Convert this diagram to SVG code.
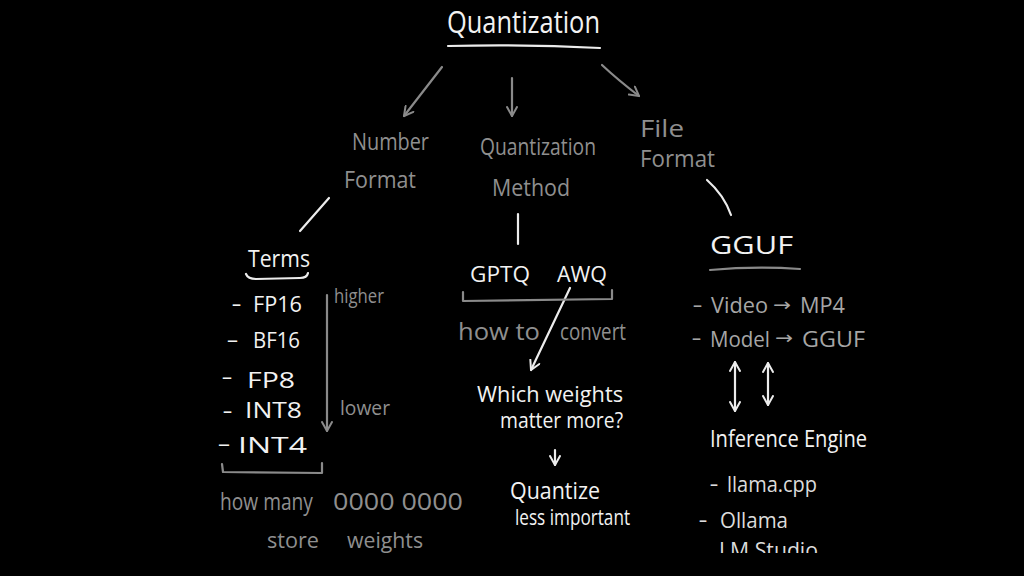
<svg xmlns="http://www.w3.org/2000/svg" width="1024" height="576" viewBox="0 0 1024 576">
<defs>
<style>
text{font-family:"Open Sans","Liberation Sans",sans-serif;}
.w{fill:#f2f2f2;}
.l{fill:#dcdcdc;}
.g{fill:#8f8f8f;}
.g2{fill:#a6a6a6;}
.arr{font-family:"DejaVu Sans",sans-serif;}
.sw{stroke:#ececec;stroke-width:2.2;fill:none;stroke-linecap:round;stroke-linejoin:round;}
.sg{stroke:#8a8a8a;stroke-width:2.2;fill:none;stroke-linecap:round;stroke-linejoin:round;}
</style>
<marker id="ag" viewBox="0 0 12 12" refX="10" refY="6" markerWidth="12" markerHeight="12" markerUnits="userSpaceOnUse" orient="auto">
<path d="M1,1 L10,6 L1,11" fill="none" stroke="#8a8a8a" stroke-width="2" stroke-linecap="round" stroke-linejoin="round"/>
</marker>
<marker id="aw" viewBox="0 0 12 12" refX="10" refY="6" markerWidth="12" markerHeight="12" markerUnits="userSpaceOnUse" orient="auto">
<path d="M1,1 L10,6 L1,11" fill="none" stroke="#ececec" stroke-width="2" stroke-linecap="round" stroke-linejoin="round"/>
</marker>
<marker id="aws" viewBox="0 0 12 12" refX="10" refY="6" markerWidth="12" markerHeight="12" markerUnits="userSpaceOnUse" orient="auto-start-reverse">
<path d="M1,1 L10,6 L1,11" fill="none" stroke="#ececec" stroke-width="2" stroke-linecap="round" stroke-linejoin="round"/>
</marker>
<clipPath id="clipBottom"><rect x="0" y="0" width="1024" height="553"/></clipPath>
</defs>
<rect x="0" y="0" width="1024" height="576" fill="#000"/>

<g id="connectors">
<path class="sg" d="M442,67 L404,116" marker-end="url(#ag)"/>
<path class="sg" d="M512,78 L512,116" marker-end="url(#ag)"/>
<path class="sg" d="M602,65 Q618,80 639,96" marker-end="url(#ag)"/>
<path class="sw" d="M329,198 L300,231"/>
<path class="sw" d="M518,214 L518,244"/>
<path class="sw" d="M707,180 Q724,195 731,215"/>
<path class="sg" d="M327,295 L327,431" marker-end="url(#ag)"/>
<path class="sw" d="M570,288 L531,370" marker-end="url(#aw)"/>
<path class="sw" d="M555,450 L555,465" marker-end="url(#aw)"/>
<path class="sw" d="M735,362 L735,411" marker-start="url(#aws)" marker-end="url(#aws)"/>
<path class="sw" d="M768,363 L768,405" marker-start="url(#aws)" marker-end="url(#aws)"/>
</g>

<g id="node-quantization">
<text class="w" x="447" y="33" font-size="31" textLength="153" lengthAdjust="spacingAndGlyphs">Quantization</text>
<path class="sw" d="M448,46 Q525,44 600,48"/>
</g>

<g id="node-number-format">
<text class="g" x="352" y="150" font-size="23" textLength="77" lengthAdjust="spacingAndGlyphs">Number</text>
<text class="g" x="344" y="188" font-size="23" textLength="72" lengthAdjust="spacingAndGlyphs">Format</text>
</g>

<g id="node-quantization-method">
<text class="g" x="480" y="155" font-size="23" textLength="116" lengthAdjust="spacingAndGlyphs">Quantization</text>
<text class="g" x="492" y="196" font-size="23" textLength="78" lengthAdjust="spacingAndGlyphs">Method</text>
</g>

<g id="node-file-format">
<text class="g" x="640" y="137" font-size="23" textLength="44" lengthAdjust="spacingAndGlyphs">File</text>
<text class="g" x="640" y="167" font-size="23" textLength="75" lengthAdjust="spacingAndGlyphs">Format</text>
</g>

<g id="node-terms">
<text class="w" x="248" y="267" font-size="24" textLength="62" lengthAdjust="spacingAndGlyphs">Terms</text>
<path class="sw" d="M246,274 Q248,279 256,279 L300,278 Q307,278 308,273"/>
<text class="w" x="232" y="311" font-size="22" textLength="9" lengthAdjust="spacingAndGlyphs">–</text>
<text class="w" x="253" y="312" font-size="22" textLength="49" lengthAdjust="spacingAndGlyphs">FP16</text>
<text class="w" x="227" y="347" font-size="22" textLength="11" lengthAdjust="spacingAndGlyphs">–</text>
<text class="w" x="253" y="348" font-size="22" textLength="47" lengthAdjust="spacingAndGlyphs">BF16</text>
<text class="w" x="222" y="384" font-size="22" textLength="10" lengthAdjust="spacingAndGlyphs">–</text>
<text class="w" x="247" y="388" font-size="22" textLength="48" lengthAdjust="spacingAndGlyphs">FP8</text>
<text class="w" x="223" y="418" font-size="22" textLength="9" lengthAdjust="spacingAndGlyphs">–</text>
<text class="w" x="245" y="418" font-size="22" textLength="57" lengthAdjust="spacingAndGlyphs">INT8</text>
<text class="w" x="218" y="451" font-size="22" textLength="12" lengthAdjust="spacingAndGlyphs">–</text>
<text class="w" x="238" y="453" font-size="22" textLength="69" lengthAdjust="spacingAndGlyphs">INT4</text>
<text class="g" x="334" y="303" font-size="20" textLength="50" lengthAdjust="spacingAndGlyphs">higher</text>
<text class="g" x="340" y="415" font-size="20" textLength="50" lengthAdjust="spacingAndGlyphs">lower</text>
<path class="sg" d="M222,464 L223,472 L322,473 L322,463"/>
</g>

<g id="node-how-many">
<text class="g" x="220" y="510" font-size="23" textLength="93" lengthAdjust="spacingAndGlyphs">how many</text>
<text class="g" x="333" y="510" font-size="23" textLength="130" lengthAdjust="spacingAndGlyphs">0000 0000</text>
<text class="g" x="267" y="548" font-size="22" textLength="52" lengthAdjust="spacingAndGlyphs">store</text>
<text class="g" x="347" y="548" font-size="22" textLength="76" lengthAdjust="spacingAndGlyphs">weights</text>
</g>

<g id="node-gptq-awq">
<text class="w" x="470" y="282" font-size="22" textLength="60" lengthAdjust="spacingAndGlyphs">GPTQ</text>
<text class="w" x="557" y="282" font-size="22" textLength="50" lengthAdjust="spacingAndGlyphs">AWQ</text>
<path class="sg" d="M463,292 L463,301 L612,299 L612,290"/>
<text class="g" x="458" y="340" font-size="23" textLength="82" lengthAdjust="spacingAndGlyphs">how to</text>
<text class="g" x="560" y="340" font-size="23" textLength="66" lengthAdjust="spacingAndGlyphs">convert</text>
</g>

<g id="node-which-weights">
<text class="w" x="477" y="402" font-size="21" textLength="146" lengthAdjust="spacingAndGlyphs">Which weights</text>
<text class="w" x="500" y="428" font-size="21" textLength="123" lengthAdjust="spacingAndGlyphs">matter more?</text>
</g>

<g id="node-quantize-less">
<text class="w" x="510" y="499" font-size="23" textLength="90" lengthAdjust="spacingAndGlyphs">Quantize</text>
<text class="w" x="515" y="525" font-size="21" textLength="115" lengthAdjust="spacingAndGlyphs">less important</text>
</g>

<g id="node-gguf">
<text class="w" x="710" y="254" font-size="25" textLength="83" lengthAdjust="spacingAndGlyphs">GGUF</text>
<path class="sg" d="M710,270 Q755,266 800,269"/>
<text class="g2" x="693" y="312" font-size="21" textLength="9" lengthAdjust="spacingAndGlyphs">–</text>
<text class="g2" x="711" y="313" font-size="21" textLength="57" lengthAdjust="spacingAndGlyphs">Video</text>
<text class="g2 arr" x="773" y="311" font-size="18" textLength="18" lengthAdjust="spacingAndGlyphs">→</text>
<text class="g2" x="800" y="313" font-size="21" textLength="45" lengthAdjust="spacingAndGlyphs">MP4</text>
<text class="g2" x="692" y="345" font-size="21" textLength="9" lengthAdjust="spacingAndGlyphs">–</text>
<text class="g2" x="710" y="347" font-size="21" textLength="60" lengthAdjust="spacingAndGlyphs">Model</text>
<text class="g2 arr" x="775" y="344" font-size="18" textLength="18" lengthAdjust="spacingAndGlyphs">→</text>
<text class="g2" x="802" y="347" font-size="21" textLength="63" lengthAdjust="spacingAndGlyphs">GGUF</text>
</g>

<g id="node-inference-engine">
<text class="w" x="710" y="447" font-size="23" textLength="157" lengthAdjust="spacingAndGlyphs">Inference Engine</text>
<text class="l" x="710" y="491" font-size="21" textLength="8" lengthAdjust="spacingAndGlyphs">–</text>
<text class="l" x="727" y="492" font-size="21" textLength="90" lengthAdjust="spacingAndGlyphs">llama.cpp</text>
<text class="l" x="699" y="527" font-size="21" textLength="8" lengthAdjust="spacingAndGlyphs">–</text>
<text class="l" x="720" y="528" font-size="21" textLength="68" lengthAdjust="spacingAndGlyphs">Ollama</text>
<text class="l" x="719" y="558" font-size="21" textLength="99" lengthAdjust="spacingAndGlyphs" clip-path="url(#clipBottom)">LM Studio</text>
</g>
</svg>
